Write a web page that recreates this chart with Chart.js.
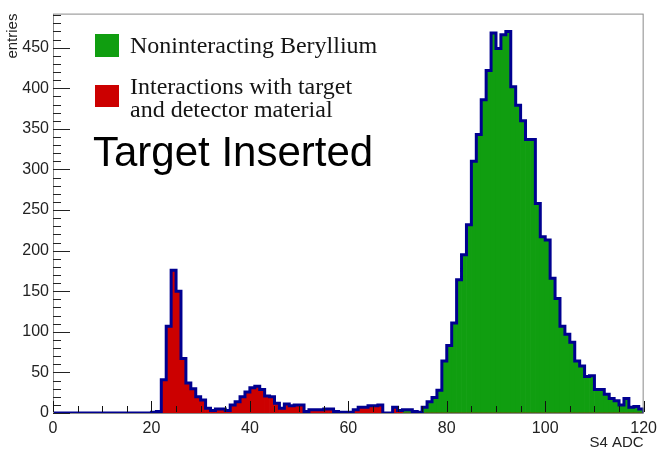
<!DOCTYPE html>
<html>
<head>
<meta charset="utf-8">
<script src="https://cdn.jsdelivr.net/npm/chart.js@4.4.0/dist/chart.umd.min.js"></script>
<style>
  html, body { margin: 0; padding: 0; background: #fff; }
  #wrap { width: 663px; height: 455px; }
</style>
</head>
<body>
<div id="wrap"><canvas id="histChart" width="663" height="455"></canvas></div>
<script>
// S4 ADC histogram, 120 bins of width 1 (0..120)
const binLow = 0;
const binWidth = 1;

// interactions with target and detector material (red)
const interacting = [
  0, 0, 0, 0, 0, 0, 0, 0, 0, 0,
  0, 0, 0, 0, 0, 0, 0, 0, 0, 0,
  1, 2, 41, 107, 176, 150, 67, 37, 30, 20,
  16, 6, 3, 5, 5, 3, 10, 14, 20, 26,
  31, 33, 29, 21, 20, 12, 6, 11, 9, 10,
  10, 2, 4, 4, 4, 5, 5, 2, 1, 1,
  1, 4, 7, 7, 9, 9, 10, 0, 0, 7,
  3, 0, 0, 0, 0, 0, 0, 0, 0, 0,
  0, 0, 0, 0, 0, 0, 0, 0, 0, 0,
  0, 0, 0, 0, 0, 0, 0, 0, 0, 0,
  0, 0, 0, 0, 0, 0, 0, 0, 0, 0,
  0, 0, 0, 0, 0, 0, 0, 0, 0, 0
];

// noninteracting beryllium (green)
const noninteracting = [
  0, 0, 0, 0, 0, 0, 0, 0, 0, 0,
  0, 0, 0, 0, 0, 0, 0, 0, 0, 0,
  0, 0, 0, 0, 0, 0, 0, 0, 0, 0,
  0, 0, 0, 0, 0, 0, 0, 0, 0, 0,
  0, 0, 0, 0, 0, 0, 0, 0, 0, 0,
  0, 0, 0, 0, 0, 0, 0, 0, 0, 0,
  0, 0, 0, 0, 0, 0, 0, 0, 0, 0,
  0, 4, 4, 2, 1, 7, 14, 19, 28, 64,
  83, 111, 164, 195, 232, 310, 343, 386, 422, 468,
  449, 466, 470, 402, 379, 360, 337, 337, 258, 217,
  213, 166, 141, 107, 97, 87, 64, 58, 45, 46,
  29, 29, 23, 18, 15, 10, 18, 7, 8, 5
];

const xTicks = [0, 20, 40, 60, 80, 100, 120];
const yTicks = [0, 50, 100, 150, 200, 250, 300, 350, 400, 450];
const xMinorStep = 5;
const yMinorStep = 10;

const RED = '#cc0000';
const GREEN = '#109e10';
const OUTLINE = '#000090';

const redPts = interacting.map((v, i) => ({ x: binLow + (i + 0.5) * binWidth, y: v }));
const greenPts = noninteracting.map((v, i) => ({ x: binLow + (i + 0.5) * binWidth, y: v }));
const outlinePts = interacting.map((v, i) => ({ x: binLow + i * binWidth, y: v + noninteracting[i] }));
outlinePts.push({ x: binLow + interacting.length * binWidth, y: 0 });

// frame + inward ticks, ROOT style
const frameTicks = {
  id: 'frameTicks',
  afterDraw(chart) {
    const { ctx, chartArea: a } = chart;
    const xs = chart.scales.x;
    const ys = chart.scales.y;
    ctx.save();
    ctx.lineWidth = 1;
    ctx.strokeStyle = '#8a8a8a';
    ctx.strokeRect(a.left + 0.5, a.top + 0.5, a.right - a.left - 1, a.bottom - a.top);

    ctx.strokeStyle = '#222';
    ctx.beginPath();
    for (let v = 0; v <= 490; v += yMinorStep) {
      const py = Math.round(ys.getPixelForValue(v)) + 0.5;
      const len = v % 50 === 0 ? 17 : 8;
      ctx.moveTo(a.left, py);
      ctx.lineTo(a.left + len, py);
    }
    ctx.stroke();

    ctx.strokeStyle = '#111';
    ctx.beginPath();
    for (let v = 0; v <= 120; v += xMinorStep) {
      const px = Math.round(xs.getPixelForValue(v)) + 0.5;
      const len = xTicks.includes(v) ? 11 : 6;
      ctx.moveTo(px, a.bottom - 1);
      ctx.lineTo(px, a.bottom - 1 - len);
    }
    ctx.stroke();
    ctx.restore();
  }
};

const legendText = {
  id: 'legendText',
  afterDraw(chart) {
    const ctx = chart.ctx;
    ctx.save();
    ctx.fillStyle = GREEN;
    ctx.fillRect(95, 34, 24, 23);
    ctx.fillStyle = RED;
    ctx.fillRect(95, 85, 24, 22);
    ctx.fillStyle = '#141414';
    ctx.textBaseline = 'alphabetic';
    ctx.font = '24px "Liberation Serif"';
    ctx.fillText('Noninteracting Beryllium', 130, 53);
    ctx.fillText('Interactions with target', 130, 94);
    ctx.fillText('and detector material', 130, 117);
    ctx.fillStyle = '#000';
    ctx.font = '42px "Liberation Sans"';
    ctx.fillText('Target Inserted', 93, 166);
    ctx.restore();
  }
};

const ctx = document.getElementById('histChart').getContext('2d');
new Chart(ctx, {
  type: 'bar',
  data: {
    datasets: [
      {
        type: 'line',
        data: outlinePts,
        stepped: 'before',
        borderColor: OUTLINE,
        borderWidth: 3,
        pointRadius: 0,
        fill: false,
        order: 0
      },
      { data: redPts, backgroundColor: RED, borderWidth: 0, barPercentage: 1, categoryPercentage: 1, order: 1 },
      { data: greenPts, backgroundColor: GREEN, borderWidth: 0, barPercentage: 1, categoryPercentage: 1, order: 1 }
    ]
  },
  options: {
    responsive: false,
    animation: false,
    layout: { padding: { top: 12, right: 17, left: 0, bottom: 0 } },
    plugins: { legend: { display: false }, tooltip: { enabled: false } },
    scales: {
      x: {
        type: 'linear',
        min: 0,
        max: 120,
        offset: false,
        stacked: true,
        grid: { display: false, drawTicks: false, offset: false },
        border: { display: false },
        afterBuildTicks: s => { s.ticks = xTicks.map(v => ({ value: v })); },
        afterFit: s => { s.height = 42; },
        ticks: { padding: 6, color: '#222', font: { family: 'Liberation Sans', size: 16 }, maxRotation: 0 },
        title: { display: true, text: 'S4 ADC', align: 'end', color: '#222', padding: { top: 0, bottom: 3 }, font: { family: 'Liberation Sans', size: 15 } }
      },
      y: {
        min: 0,
        max: 492,
        stacked: true,
        grid: { display: false, drawTicks: false },
        border: { display: false },
        afterBuildTicks: s => { s.ticks = yTicks.map(v => ({ value: v })); },
        afterFit: s => { s.width = 53; },
        ticks: { padding: 4, color: '#222', font: { family: 'Liberation Sans', size: 16 } },
        title: { display: true, text: 'entries', align: 'end', color: '#222', padding: { top: 4, bottom: 0 }, font: { family: 'Liberation Sans', size: 15 } }
      }
    }
  },
  plugins: [frameTicks, legendText]
});
</script>
</body>
</html>
